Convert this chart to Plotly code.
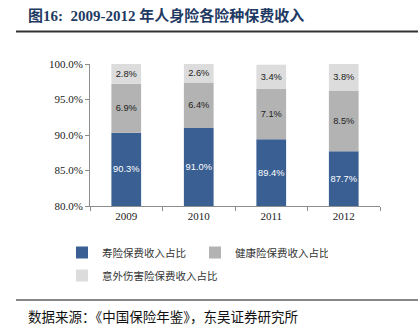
import plotly.graph_objects as go

years = ["2009", "2010", "2011", "2012"]
life = [90.3, 91.0, 89.4, 87.7]
health = [6.9, 6.4, 7.1, 8.5]
accident = [2.8, 2.6, 3.4, 3.8]
series_names = ["寿险保费收入占比", "健康险保费收入占比", "意外伤害险保费收入占比"]
y_tickvals = [80, 85, 90, 95, 100]
y_ticktext = ["80.0%", "85.0%", "90.0%", "95.0%", "100.0%"]
title_text = "图16:  2009-2012 年人身险各险种保费收入"
source_text = "数据来源：《中国保险年鉴》，东吴证券研究所"
axis_min = 80
axis_max = 100

W, H = 418, 325
L, R, T, B = 90, 380, 64, 206  # plot area in pixels


def px_x(p):
    return (p - L) / (R - L)


def px_y(p):
    return (B - p) / (B - T)


colors = ["#3A6093", "#B3B3B3", "#DCDCDC"]
text_colors = ["#FFFFFF", "#222222", "#222222"]
label_font = "Liberation Sans, Arial, sans-serif"

base_life = [axis_min] * len(years)
base_health = life
base_acc = [a + b for a, b in zip(life, health)]

fig = go.Figure()
specs = [
    (series_names[0], [v - axis_min for v in life], base_life, life, "legend"),
    (series_names[1], health, base_health, health, "legend"),
    (series_names[2], accident, base_acc, accident, "legend2"),
]
for i, (nm, yv, bs, lab, lg) in enumerate(specs):
    fig.add_trace(go.Bar(
        x=years, y=yv, base=bs, name=nm,
        marker=dict(color=colors[i], line=dict(width=0)),
        text=[f"{v:.1f}%" for v in lab],
        textposition="inside", insidetextanchor="middle",
        constraintext="none", textangle=0,
        textfont=dict(family=label_font, size=9.3, color=text_colors[i]),
        width=0.41, legend=lg, hoverinfo="skip",
    ))

fig.update_layout(
    width=W, height=H,
    margin=dict(l=L, r=W - R, t=T, b=H - B, pad=0),
    paper_bgcolor="white", plot_bgcolor="white",
    barmode="overlay",
    showlegend=True,
    legend=dict(
        orientation="h", x=px_x(62), y=px_y(238), xanchor="left", yanchor="top",
        font=dict(family="Noto Sans CJK SC", size=10.5, color="#333333"),
        entrywidth=88, entrywidthmode="pixels", bgcolor="rgba(0,0,0,0)",
        itemclick=False,
    ),
    legend2=dict(
        orientation="h", x=px_x(62), y=px_y(261), xanchor="left", yanchor="top",
        font=dict(family="Noto Sans CJK SC", size=10.5, color="#333333"),
        bgcolor="rgba(0,0,0,0)", itemclick=False,
    ),
    xaxis=dict(
        type="category", showline=True, linecolor="#8C8C8C", linewidth=1,
        ticks="outside", tickson="boundaries", ticklen=4, tickcolor="#8C8C8C",
        tickfont=dict(family="Liberation Serif", size=11, color="#222222"),
        showgrid=False, zeroline=False, fixedrange=True,
    ),
    yaxis=dict(
        range=[axis_min, axis_max], tickvals=y_tickvals, ticktext=y_ticktext,
        showline=True, linecolor="#8C8C8C", linewidth=1,
        ticks="outside", ticklen=4, tickcolor="#8C8C8C",
        tickfont=dict(family="Liberation Serif", size=11, color="#222222"),
        showgrid=False, zeroline=False, fixedrange=True,
    ),
    annotations=[
        dict(text="<b>" + title_text + "</b>", xref="paper", yref="paper",
             x=px_x(26), y=px_y(15), xanchor="left", yanchor="middle",
             showarrow=False,
             font=dict(family="Liberation Serif, Noto Sans CJK SC", size=15, color="#1F3B63")),
        dict(text=source_text, xref="paper", yref="paper",
             x=px_x(26), y=px_y(316), xanchor="left", yanchor="middle",
             showarrow=False,
             font=dict(family="Noto Sans CJK SC", size=13.5, color="#111111")),
    ],
    shapes=[
        dict(type="line", xref="paper", yref="paper", x0=px_x(16), x1=px_x(418),
             y0=px_y(31.5), y1=px_y(31.5), line=dict(color="#333333", width=2.2)),
        dict(type="line", xref="paper", yref="paper", x0=px_x(16), x1=px_x(418),
             y0=px_y(300), y1=px_y(300), line=dict(color="#111111", width=1.2)),
    ],
)

fig.write_html("out.html")
